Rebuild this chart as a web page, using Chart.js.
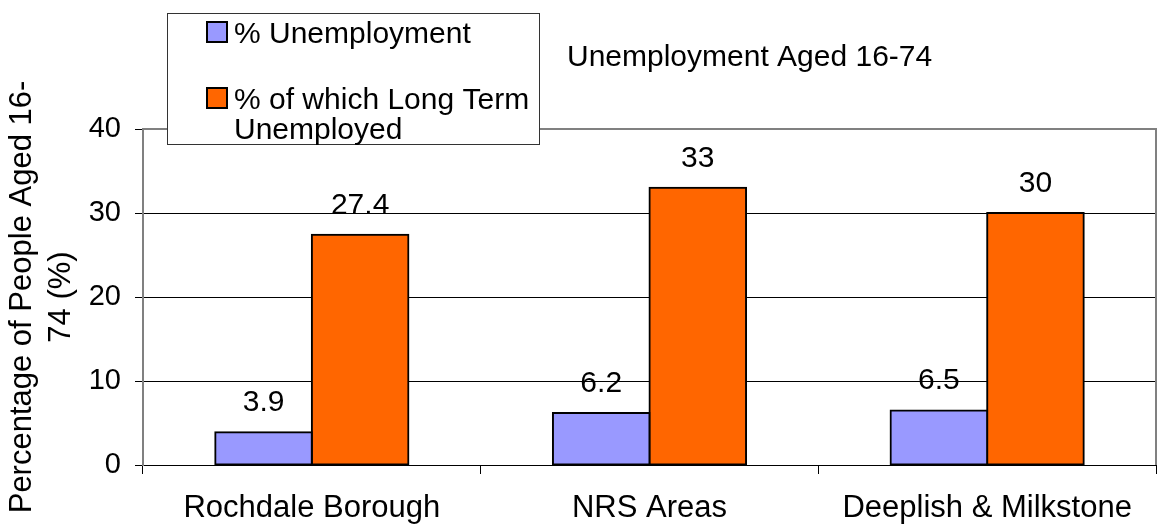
<!DOCTYPE html>
<html>
<head>
<meta charset="utf-8">
<script src="https://cdn.jsdelivr.net/npm/chart.js@4/dist/chart.umd.min.js"></script>
<style>
  html, body { margin: 0; padding: 0; background: #fff; }
  #wrap { width: 1157px; height: 525px; }
</style>
</head>
<body>
<div id="wrap"><canvas id="unempChart"></canvas></div>
<script>
// values
const categories = ['Rochdale Borough', 'NRS Areas', 'Deeplish & Milkstone'];
const unemployment = [3.9, 6.2, 6.5];
const longTerm = [27.4, 33, 30];
const yTicks = [0, 10, 20, 30, 40];
const seriesNames = ['% Unemployment', '% of which Long Term Unemployed'];
const chartTitle = 'Unemployment Aged 16-74';
const yTitle = ['Percentage of People Aged 16-', '74 (%)'];

const FONT = 'Liberation Sans, Arial, sans-serif';

// numbers above the bars
const barLabels = {
    id: 'barLabels',
    afterDatasetsDraw(chart) {
        const ctx = chart.ctx;
        ctx.save();
        ctx.font = '30px ' + FONT;
        ctx.fillStyle = '#000';
        ctx.textAlign = 'center';
        ctx.textBaseline = 'alphabetic';
        chart.data.datasets.forEach((ds, i) => {
            chart.getDatasetMeta(i).data.forEach((bar, j) => {
                ctx.fillText(String(ds.data[j]), bar.x, bar.y - 21);
            });
        });
        ctx.restore();
    }
};

// grey frame on top/right of the plot, title and the boxed legend
const extras = {
    id: 'extras',
    beforeDatasetsDraw(chart) {
        const {ctx, chartArea: a} = chart;
        ctx.save();
        ctx.strokeStyle = '#808080';
        ctx.lineWidth = 2;
        ctx.beginPath();
        ctx.moveTo(a.left, a.top);
        ctx.lineTo(a.right, a.top);
        ctx.lineTo(a.right, a.bottom);
        ctx.stroke();
        ctx.restore();
    },
    afterDraw(chart) {
        const ctx = chart.ctx;
        ctx.save();
        ctx.font = '30px ' + FONT;
        ctx.fillStyle = '#000';
        ctx.textAlign = 'left';
        ctx.textBaseline = 'alphabetic';
        ctx.fillText(chartTitle, 567, 66);

        // legend box
        ctx.fillStyle = '#fff';
        ctx.fillRect(167, 13, 372, 131);
        ctx.strokeStyle = '#333';
        ctx.lineWidth = 1;
        ctx.strokeRect(167.5, 13.5, 372, 131);

        const rows = [22, 88];
        chart.data.datasets.forEach((ds, i) => {
            const y = rows[i];
            ctx.fillStyle = ds.backgroundColor;
            ctx.fillRect(207, y, 20, 20);
            ctx.strokeStyle = '#000';
            ctx.lineWidth = 2;
            ctx.strokeRect(207, y, 20, 20);
            // simple word wrap
            const words = ds.label.split(' ');
            let line = '';
            let lineY = y + 21;
            ctx.fillStyle = '#000';
            words.forEach(w => {
                const test = line ? line + ' ' + w : w;
                if (ctx.measureText(test).width > 300 && line) {
                    ctx.fillText(line, 234, lineY);
                    line = w;
                    lineY += 30;
                } else {
                    line = test;
                }
            });
            ctx.fillText(line, 234, lineY);
        });
        ctx.restore();
    }
};

new Chart(document.getElementById('unempChart'), {
    type: 'bar',
    data: {
        labels: categories,
        datasets: [
            {
                label: seriesNames[0],
                data: unemployment,
                backgroundColor: '#9999FF',
                borderColor: '#000',
                borderWidth: 2,
                borderSkipped: false,
                inflateAmount: 1
            },
            {
                label: seriesNames[1],
                data: longTerm,
                backgroundColor: '#FF6600',
                borderColor: '#000',
                borderWidth: 2,
                borderSkipped: false,
                inflateAmount: 1
            }
        ]
    },
    options: {
        responsive: true,
        maintainAspectRatio: false,
        animation: false,
        layout: { padding: { top: 129, right: 1, left: 0, bottom: 0 } },
        datasets: {
            bar: { categoryPercentage: 0.572, barPercentage: 1 }
        },
        plugins: {
            legend: { display: false },
            title: { display: false },
            tooltip: { enabled: false }
        },
        scales: {
            x: {
                afterFit: (axis) => { axis.height = 60; },
                grid: {
                    drawOnChartArea: false,
                    color: '#000',
                    tickColor: '#000',
                    tickLength: 9
                },
                border: { color: '#000', width: 1 },
                ticks: {
                    color: '#000',
                    font: { family: FONT, size: 31 },
                    padding: 16,
                    maxRotation: 0,
                    autoSkip: false
                }
            },
            y: {
                min: 0,
                max: 40,
                afterFit: (axis) => { axis.width = 143; },
                afterBuildTicks: (axis) => { axis.ticks = yTicks.map(v => ({ value: v })); },
                grid: {
                    color: (c) => (c.tick && c.tick.value === 40) ? '#808080' : '#000',
                    lineWidth: 1,
                    tickColor: '#000',
                    tickLength: 8
                },
                border: { color: '#808080', width: 2 },
                ticks: {
                    color: '#000',
                    font: { family: FONT, size: 29 },
                    padding: 14
                },
                title: {
                    display: true,
                    text: yTitle,
                    color: '#000',
                    font: { family: FONT, size: 31, lineHeight: 1.26 },
                    padding: { top: 3, bottom: 0 }
                }
            }
        }
    },
    plugins: [barLabels, extras]
});
</script>
</body>
</html>
